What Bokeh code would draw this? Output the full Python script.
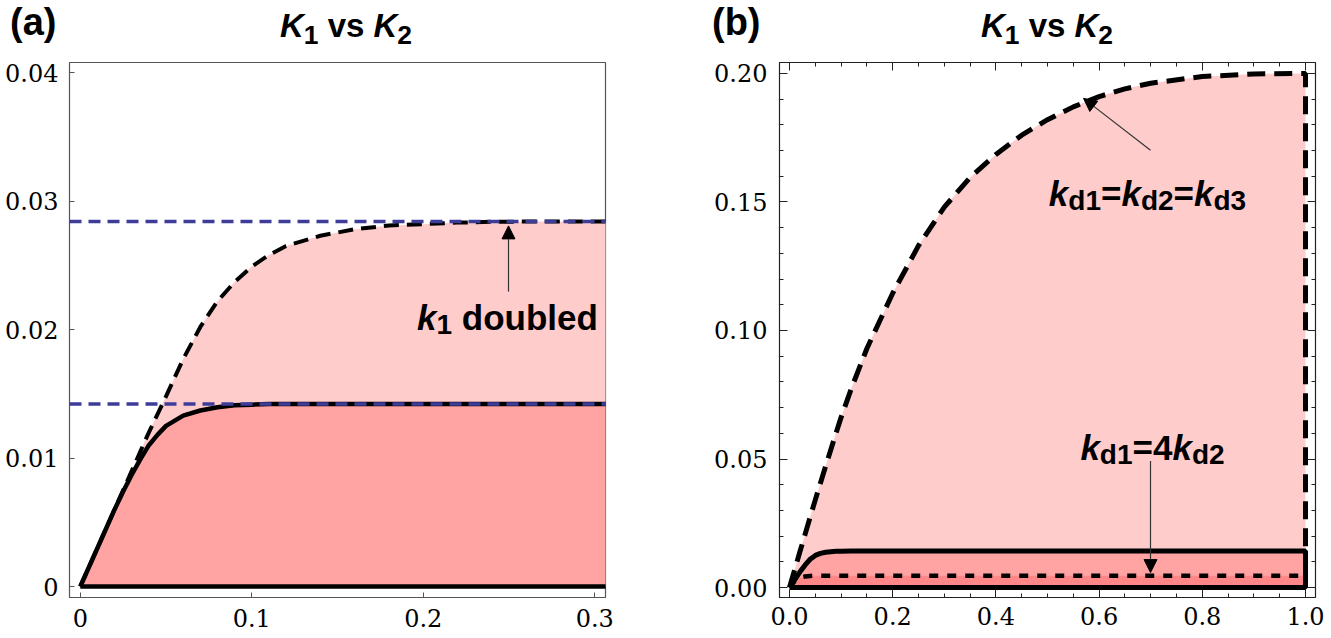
from bokeh.plotting import figure
from bokeh.layouts import row, column
from bokeh.models import Range1d, FixedTicker, Span, Label, Arrow, NormalHead, LinearAxis, Div
from bokeh.embed import file_html
from bokeh.resources import INLINE

# ---------------- data: panel (a) ----------------
k2_a = [0, 0.005, 0.01, 0.015, 0.02, 0.025, 0.03, 0.035, 0.04, 0.045, 0.05,
        0.06, 0.07, 0.08, 0.09, 0.10, 0.11, 0.12, 0.14, 0.16, 0.18, 0.20, 0.22,
        0.24, 0.26, 0.28, 0.30, 0.31]
k1_base_a = [0, 0.0015, 0.0030, 0.0045, 0.0060, 0.0074, 0.0087, 0.0099, 0.0110, 0.0118, 0.0125,
             0.0133, 0.0137, 0.01395, 0.0141, 0.01415, 0.0142, 0.0142, 0.0142, 0.0142, 0.0142, 0.0142, 0.0142,
             0.0142, 0.0142, 0.0142, 0.0142, 0.0142]
k1_doubled_a = [0, 0.0015, 0.0030, 0.0045, 0.0060, 0.0075, 0.0090, 0.0105, 0.0120, 0.0134, 0.0148,
                0.0177, 0.0202, 0.0222, 0.0237, 0.0249, 0.0258, 0.0265, 0.0273, 0.0278, 0.0281, 0.0282, 0.02832,
                0.02838, 0.0284, 0.0284, 0.0284, 0.0284]
plateau_a = [0.0142, 0.0284]
xticks_a = [0, 0.1, 0.2, 0.3]
xlabels_a = ["0", "0.1", "0.2", "0.3"]
yticks_a = [0, 0.01, 0.02, 0.03, 0.04]
ylabels_a = ["0", "0.01", "0.02", "0.03", "0.04"]

# ---------------- data: panel (b) ----------------
k2_b = [0, 0.01, 0.02, 0.03, 0.04, 0.05, 0.06, 0.07, 0.08, 0.09, 0.10,
        0.12, 0.15, 0.20, 0.25, 0.30, 0.35, 0.40, 0.45, 0.50, 0.55, 0.60,
        0.65, 0.70, 0.80, 0.90, 1.00]
k1_equal_b = [0, 0.0069, 0.0138, 0.0206, 0.0274, 0.0341, 0.0407, 0.0472, 0.0536, 0.0600, 0.0662,
              0.0775, 0.0930, 0.1145, 0.1330, 0.1480, 0.1595, 0.1685, 0.1760, 0.1820, 0.1870, 0.1910,
              0.1940, 0.1962, 0.1988, 0.1998, 0.2000]
k1_base_b = [0, 0.0030, 0.0060, 0.0087, 0.0110, 0.0125, 0.0133, 0.0137, 0.01395, 0.0141, 0.01415,
             0.0142, 0.0142, 0.0142, 0.0142, 0.0142, 0.0142, 0.0142, 0.0142, 0.0142, 0.0142, 0.0142,
             0.0142, 0.0142, 0.0142, 0.0142, 0.0142]
k1_ratio4_b = [0, 0.0025, 0.0038, 0.0043, 0.0045, 0.0046, 0.0046, 0.0046, 0.0046, 0.0046, 0.0046,
               0.0046, 0.0046, 0.0046, 0.0046, 0.0046, 0.0046, 0.0046, 0.0046, 0.0046, 0.0046, 0.0046,
               0.0046, 0.0046, 0.0046, 0.0046, 0.0046]
xticks_b = [0, 0.2, 0.4, 0.6, 0.8, 1.0]
xlabels_b = ["0.0", "0.2", "0.4", "0.6", "0.8", "1.0"]
yticks_b = [0, 0.05, 0.10, 0.15, 0.20]
ylabels_b = ["0.00", "0.05", "0.10", "0.15", "0.20"]

# ---------------- styling ----------------
PINK_LIGHT = "#FFCCCC"
PINK_MID = "#FFA3A3"
PINK_DARK = "#FF8787"
BLUE = "#3D3D99"
SANS = "Liberation Sans"
SERIF = "DejaVu Serif"
TITLE_H = 52
H = 638 - TITLE_H

# page geometry of frames (left, top, width, height) and ranges
GEO_A = dict(left=69, top=60, w=536, h=537, xr=(-0.00629, 0.30629), yr=(-0.000853, 0.04078))
GEO_B = dict(left=779, top=62, w=536, h=537, xr=(-0.01938, 1.01938), yr=(-0.003876, 0.20426))


def to_data(g, X, Y):
    x0, x1 = g["xr"]
    y0, y1 = g["yr"]
    return (x0 + (X - g["left"]) / g["w"] * (x1 - x0),
            y1 - (Y - g["top"]) / g["h"] * (y1 - y0))


WID = {'K': 722, 'v': 556, 's': 556, ' ': 278, 'k': 556, 'd': 611, 'o': 611, 'u': 611, 'b': 611,
       'l': 278, 'e': 556, '1': 556, '2': 556, '3': 556, '4': 556, '=': 584, '(': 333, ')': 333, 'a': 556}
SUB = 0.8


def rich(p, g, X, Y, pieces, size):
    """pieces: list of (text, italic, subscript); centred at page X, baseline at page Y."""
    x, y = to_data(g, X, Y)
    widths = []
    for t, it, sb in pieces:
        fs = size * SUB if sb else size
        widths.append(sum(WID[c] for c in t) / 1000.0 * fs)
    off = -sum(widths) / 2
    for (t, it, sb), w in zip(pieces, widths):
        fs = size * SUB if sb else size
        lead = len(t) - len(t.lstrip(" "))
        p.add_layout(Label(x=x, y=y, x_offset=off + lead * WID[' '] / 1000.0 * fs,
                           y_offset=(-0.2 * size if sb else 0), text=t.strip(),
                           text_font=SANS, text_font_style=("bold italic" if it else "bold"),
                           text_font_size=f"{fs:.1f}px", text_color="black",
                           text_align="left", text_baseline="alphabetic"))
        off += w


def arrow(p, g, X0, Y0, X1, Y1):
    x0, y0 = to_data(g, X0, Y0)
    x1, y1 = to_data(g, X1, Y1)
    p.add_layout(Arrow(end=NormalHead(size=13, fill_color="black", line_color="black", line_width=1),
                       x_start=x0, y_start=y0, x_end=x1, y_end=y1, line_color="#333333", line_width=1.2))


def style_axis(ax, ticks, labels, minor, tick_in, color, font_size, standoff, show=True):
    ax.ticker = FixedTicker(ticks=ticks, minor_ticks=minor)
    ax.major_label_overrides = {t: l for t, l in zip(ticks, labels)}
    ax.major_tick_in = tick_in
    ax.major_tick_out = 0
    ax.minor_tick_in = tick_in // 2
    ax.minor_tick_out = 0
    ax.axis_line_color = color
    ax.major_tick_line_color = color
    ax.minor_tick_line_color = color
    ax.major_label_text_font = SERIF
    ax.major_label_standoff = standoff
    if show:
        ax.major_label_text_font_size = f"{font_size}px"
        ax.major_label_text_color = "black"
    else:
        ax.major_label_text_font_size = "1px"
        ax.major_label_text_color = None


def make_fig(g, x_page, width, outline):
    top = g["top"] - TITLE_H
    left = g["left"] - x_page
    right = width - left - g["w"]
    p = figure(width=width, height=H, x_range=Range1d(*g["xr"]), y_range=Range1d(*g["yr"]),
               output_backend="svg", toolbar_location=None,
               min_border_left=left, min_border_right=right, min_border_top=top,
               min_border_bottom=H - top - g["h"])
    p.grid.visible = False
    p.outline_line_color = outline
    p.outline_line_width = 1.2
    p.border_fill_color = "white"
    p.background_fill_color = "white"
    return p


# ---------------- titles (HTML text row) ----------------
def span_html(left, baseline, size, inner, lh=1.0, center=False):
    top = baseline - ((lh - 1.117) / 2 + 0.905) * size
    tr = "transform:translateX(-50%);" if center else ""
    return (f'<span style="position:absolute;left:{left}px;top:{top:.1f}px;{tr}white-space:nowrap;'
            f"font-family:'Liberation Sans',Arial,sans-serif;font-weight:bold;font-size:{size}px;"
            f'line-height:{lh}em;color:#000">{inner}</span>')


SUBSPAN = '<span style="font-size:0.8em;position:relative;top:0.25em">{}</span>'
title_inner = f"<i>K</i>{SUBSPAN.format('1')}&nbsp;vs&nbsp;<i>K</i>{SUBSPAN.format('2')}"
panel_tags = ["(a)", "(b)"]
title_html = (f'<div style="position:relative;width:1331px;height:{TITLE_H}px;">'
              + span_html(10, 35, 38, panel_tags[0])
              + span_html(346, 37, 33, title_inner, center=True)
              + span_html(712, 35, 38, panel_tags[1])
              + span_html(1047, 37, 33, title_inner, center=True)
              + '</div>')
titles = Div(text=title_html, width=1331, height=TITLE_H, margin=0, styles={"overflow": "visible"})

# ---------------- panel (a) ----------------
pa = make_fig(GEO_A, 0, 700, "#555555")
style_axis(pa.xaxis[0], xticks_a, xlabels_a, [], 5, "#555555", 24, 11)
style_axis(pa.yaxis[0], yticks_a, ylabels_a, [], 5, "#555555", 24, 11)

pa.varea(x=k2_a, y1=k1_base_a, y2=k1_doubled_a, fill_color=PINK_LIGHT)
pa.varea(x=k2_a, y1=0, y2=k1_base_a, fill_color=PINK_MID)
pa.line(k2_a, k1_doubled_a, line_color="black", line_width=4, line_dash="15 8")
pa.line(k2_a, k1_base_a, line_color="black", line_width=4.5)
pa.line([k2_a[0], k2_a[-1]], [0, 0], line_color="black", line_width=4.5)
for v in plateau_a:
    pa.add_layout(Span(location=v, dimension="width", line_color=BLUE, line_width=3.5, line_dash="12 7"))

rich(pa, GEO_A, 507, 316, [("k", True, False), ("1", False, True), (" doubled", False, False)], 35)
arrow(pa, GEO_A, 508, 290, 508, 224)

# ---------------- panel (b) ----------------
pb = make_fig(GEO_B, 700, 627, "#222222")
minor_x_b = [i * 0.05 for i in range(21)]
minor_y_b = [i * 0.01 for i in range(21)]
style_axis(pb.xaxis[0], xticks_b, xlabels_b, minor_x_b, 8, "#222222", 24, 9)
style_axis(pb.yaxis[0], yticks_b, ylabels_b, minor_y_b, 8, "#222222", 24, 12)
top_ax = LinearAxis()
right_ax = LinearAxis()
style_axis(top_ax, xticks_b, xlabels_b, minor_x_b, 8, "#222222", 0, 0, show=False)
style_axis(right_ax, yticks_b, ylabels_b, minor_y_b, 8, "#222222", 0, 0, show=False)
top_ax.axis_line_color = None
right_ax.axis_line_color = None
pb.add_layout(top_ax, "above")
pb.add_layout(right_ax, "right")

pb.varea(x=k2_b, y1=0, y2=k1_equal_b, fill_color=PINK_LIGHT)
pb.varea(x=k2_b, y1=0, y2=k1_base_b, fill_color=PINK_MID)
pb.varea(x=k2_b, y1=0, y2=k1_ratio4_b, fill_color=PINK_DARK)
pb.line(k2_b + [k2_b[-1]], k1_equal_b + [0], line_color="black", line_width=5, line_dash="18 9")
pb.line(k2_b + [k2_b[-1], k2_b[0]], k1_base_b + [0, 0], line_color="black", line_width=5)
pb.line(k2_b, k1_ratio4_b, line_color="black", line_width=4.5, line_dash="9 9")

rich(pb, GEO_B, 1147, 193, [("k", True, False), ("d1", False, True), ("=", False, False),
                            ("k", True, False), ("d2", False, True), ("=", False, False),
                            ("k", True, False), ("d3", False, True)], 35)
arrow(pb, GEO_B, 1150, 150, 1083, 98)
rich(pb, GEO_B, 1152, 448, [("k", True, False), ("d1", False, True), ("=4", False, False),
                            ("k", True, False), ("d2", False, True)], 35)
arrow(pb, GEO_B, 1150, 462, 1150, 574)

layout = column(titles, row(pa, pb))
open("out.html", "w").write(file_html(layout, INLINE))
